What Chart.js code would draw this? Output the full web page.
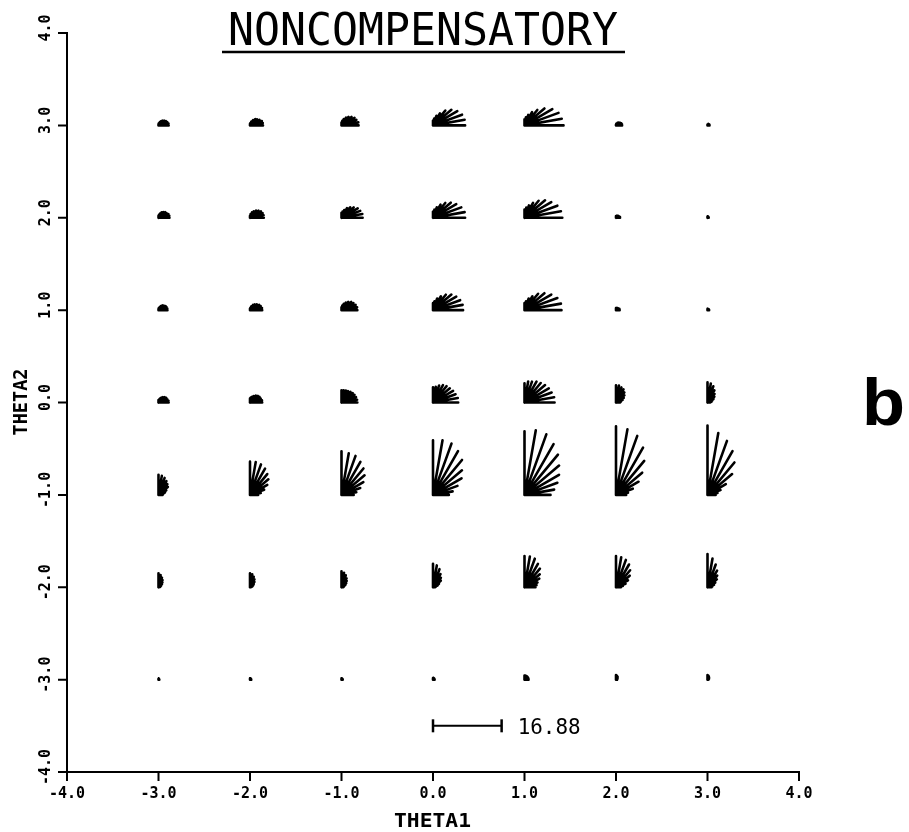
<!DOCTYPE html>
<html>
<head>
<meta charset="utf-8">
<script src="https://cdn.jsdelivr.net/npm/chart.js@4.4.1/dist/chart.umd.min.js"></script>
<style>
  html, body { margin: 0; padding: 0; background: #ffffff; }
  #wrap { width: 909px; height: 832px; }
</style>
</head>
<body>
<div id="wrap"><canvas id="info-plot" width="909" height="832"></canvas></div>
<script>
// grid of ability points
const theta1Values = [-3, -2, -1, 0, 1, 2, 3];
const theta2Values = [3, 2, 1, 0, -1, -2, -3];
// directions of the fan lines, degrees from the THETA1 axis
const directions = [0, 10, 20, 30, 40, 50, 60, 70, 80, 90];

// information in each direction, one list per point, theta1 = -3 .. 3
const infoRow3 = [
  [2.5, 2.5, 2.3, 2.1, 1.8, 1.5, 1.1, 0.7, 0.5, 0.3],
  [3.2, 3.2, 3.1, 2.7, 2.3, 2.0, 1.5, 1.0, 0.6, 0.4],
  [4.2, 4.2, 3.9, 3.7, 3.2, 2.7, 2.2, 1.6, 1.1, 0.7],
  [7.9, 7.9, 7.6, 6.9, 5.9, 4.7, 3.4, 2.5, 1.7, 1.2],
  [9.6, 9.3, 8.9, 7.9, 6.4, 4.9, 3.7, 2.7, 2.0, 1.5],
  [1.5, 1.5, 1.4, 1.2, 1.0, 0.9, 0.7, 0.5, 0.4, 0.2],
  [0.5, 0.5, 0.5, 0.5, 0.4, 0.4, 0.4, 0.2, 0.2, 0.2]
];
const infoRow2 = [
  [2.7, 2.7, 2.6, 2.3, 2.1, 1.8, 1.5, 1.1, 0.7, 0.5],
  [3.4, 3.4, 3.3, 3.1, 2.7, 2.3, 1.8, 1.4, 0.9, 0.5],
  [5.2, 5.2, 4.9, 4.6, 3.9, 3.3, 2.7, 2.0, 1.5, 1.2],
  [7.9, 7.9, 7.4, 6.6, 5.7, 4.7, 3.7, 2.7, 2.0, 1.5],
  [9.3, 9.1, 8.6, 7.6, 6.6, 5.4, 4.2, 3.2, 2.5, 2.0],
  [1.0, 1.0, 0.9, 0.7, 0.7, 0.6, 0.5, 0.5, 0.4, 0.4],
  [0.3, 0.3, 0.3, 0.3, 0.3, 0.3, 0.3, 0.3, 0.3, 0.3]
];
const infoRow1 = [
  [2.2, 2.2, 2.1, 2.0, 1.7, 1.5, 1.1, 0.7, 0.5, 0.3],
  [3.0, 3.0, 2.8, 2.6, 2.2, 1.8, 1.5, 1.0, 0.6, 0.4],
  [3.9, 3.9, 3.7, 3.4, 3.1, 2.6, 2.1, 1.6, 1.1, 0.7],
  [7.4, 7.4, 7.1, 6.6, 5.9, 4.9, 3.9, 3.0, 2.2, 1.7],
  [9.1, 9.1, 8.6, 7.6, 6.4, 5.2, 3.9, 3.0, 2.2, 1.7],
  [0.9, 0.9, 0.9, 0.7, 0.7, 0.6, 0.6, 0.5, 0.5, 0.5],
  [0.4, 0.4, 0.4, 0.4, 0.3, 0.3, 0.3, 0.3, 0.3, 0.3]
];
const infoRow0 = [
  [2.5, 2.5, 2.3, 2.2, 2.0, 1.7, 1.4, 1.0, 0.7, 0.6],
  [3.0, 3.0, 2.8, 2.7, 2.5, 2.2, 1.8, 1.5, 1.2, 1.0],
  [3.9, 3.9, 3.8, 3.7, 3.6, 3.4, 3.2, 3.1, 3.0, 3.0],
  [6.2, 6.2, 5.9, 5.7, 5.4, 5.2, 4.9, 4.4, 3.9, 3.7],
  [7.4, 7.4, 7.1, 6.9, 6.6, 6.2, 5.9, 5.4, 5.2, 4.7],
  [1.0, 1.2, 1.7, 2.2, 2.7, 3.2, 3.7, 3.9, 4.2, 4.2],
  [0.7, 1.0, 1.2, 1.7, 2.2, 2.7, 3.4, 4.2, 4.7, 4.9]
];
const infoRowMinus1 = [
  [1.0, 1.2, 1.7, 2.2, 3.0, 3.4, 3.9, 4.4, 4.7, 4.9],
  [2.0, 2.7, 3.7, 4.9, 5.9, 6.6, 7.4, 7.9, 8.1, 8.1],
  [3.0, 3.7, 4.9, 6.2, 7.4, 8.4, 9.3, 10.1, 10.3, 10.6],
  [3.9, 4.9, 6.4, 8.1, 9.3, 11.1, 12.3, 13.3, 13.5, 13.3],
  [6.4, 7.4, 8.6, 9.8, 11.1, 12.8, 14.3, 15.7, 16.0, 15.5],
  [2.5, 3.0, 4.4, 6.4, 8.4, 10.8, 13.3, 15.3, 16.2, 16.7],
  [2.0, 2.5, 3.4, 5.2, 7.9, 10.3, 12.3, 14.0, 15.3, 16.88]
];
const infoRowMinus2 = [
  [0.2, 0.4, 0.5, 0.7, 1.1, 1.5, 2.0, 2.5, 3.0, 3.4],
  [0.2, 0.4, 0.6, 0.9, 1.2, 1.7, 2.2, 2.7, 3.2, 3.4],
  [0.4, 0.5, 0.7, 1.1, 1.5, 2.0, 2.5, 3.1, 3.6, 3.9],
  [0.5, 0.7, 1.2, 1.7, 2.5, 3.0, 3.7, 4.7, 5.4, 5.7],
  [2.7, 3.0, 3.4, 4.2, 4.9, 5.9, 6.6, 7.4, 7.6, 7.6],
  [1.2, 1.7, 2.5, 3.4, 4.4, 5.4, 6.4, 7.1, 7.4, 7.6],
  [1.0, 1.2, 1.7, 2.2, 3.0, 3.7, 4.7, 5.9, 7.1, 8.1]
];
const infoRowMinus3 = [
  [0.2, 0.2, 0.2, 0.2, 0.2, 0.2, 0.2, 0.2, 0.2, 0.2],
  [0.3, 0.3, 0.3, 0.3, 0.3, 0.3, 0.3, 0.3, 0.3, 0.3],
  [0.3, 0.3, 0.3, 0.3, 0.3, 0.3, 0.3, 0.3, 0.3, 0.3],
  [0.4, 0.4, 0.4, 0.4, 0.4, 0.4, 0.4, 0.4, 0.4, 0.4],
  [1.0, 1.0, 1.0, 1.0, 1.0, 1.0, 1.0, 1.0, 1.0, 1.0],
  [0.2, 0.3, 0.3, 0.4, 0.5, 0.6, 0.8, 0.9, 1.0, 1.1],
  [0.2, 0.3, 0.3, 0.4, 0.5, 0.6, 0.7, 0.9, 1.0, 1.1]
];
const infoRows = [infoRow3, infoRow2, infoRow1, infoRow0, infoRowMinus1, infoRowMinus2, infoRowMinus3];

const xTickValues = [-4, -3, -2, -1, 0, 1, 2, 3, 4];
const xTickLabels = ['-4.0', '-3.0', '-2.0', '-1.0', '0.0', '1.0', '2.0', '3.0', '4.0'];
const yTickValues = [-4, -3, -2, -1, 0, 1, 2, 3, 4];
const yTickLabels = ['-4.0', '-3.0', '-2.0', '-1.0', '0.0', '1.0', '2.0', '3.0', '4.0'];

const scaleBarInfo = 16.88;          // information shown by the scale bar
const scaleBarUnits = 0.75;          // its length in theta units
const unitsPerInfo = scaleBarUnits / scaleBarInfo;

// each fan line: origin, tip, then a gap
function buildFanSegments() {
  const pts = [];
  theta2Values.forEach((t2, r) => {
    theta1Values.forEach((t1, c) => {
      infoRows[r][c].forEach((info, k) => {
        const a = directions[k] * Math.PI / 180;
        const len = info * unitsPerInfo;
        pts.push({ x: t1, y: t2 });
        pts.push({ x: t1 + len * Math.cos(a), y: t2 + len * Math.sin(a) });
        pts.push({ x: t1, y: null });
      });
    });
  });
  return pts;
}

function fitText(ctx, text, left, baseline, width, font) {
  ctx.save();
  ctx.font = font;
  const w = ctx.measureText(text).width;
  ctx.translate(left, baseline);
  ctx.scale(width / w, 1);
  ctx.textAlign = 'left';
  ctx.textBaseline = 'alphabetic';
  ctx.fillText(text, 0, 0);
  ctx.restore();
}

const plotterText = {
  id: 'plotterText',
  afterDraw(chart) {
    const ctx = chart.ctx;
    const xs = chart.scales.x;
    const ys = chart.scales.y;
    const area = chart.chartArea;
    ctx.save();
    ctx.fillStyle = '#000';
    ctx.strokeStyle = '#000';

    // tick marks
    ctx.lineWidth = 2;
    ctx.beginPath();
    xTickValues.forEach(v => {
      const px = xs.getPixelForValue(v);
      ctx.moveTo(px, area.bottom);
      ctx.lineTo(px, area.bottom + 9);
    });
    yTickValues.forEach(v => {
      const py = ys.getPixelForValue(v);
      ctx.moveTo(area.left - 9, py);
      ctx.lineTo(area.left, py);
    });
    ctx.stroke();

    // tick labels
    ctx.font = 'bold 15px "DejaVu Sans Mono"';
    ctx.textAlign = 'center';
    ctx.textBaseline = 'middle';
    xTickValues.forEach((v, i) => {
      ctx.fillText(xTickLabels[i], xs.getPixelForValue(v), area.bottom + 22);
    });
    yTickValues.forEach((v, i) => {
      ctx.save();
      ctx.translate(area.left - 21, ys.getPixelForValue(v) - 5);
      ctx.rotate(-Math.PI / 2);
      ctx.fillText(yTickLabels[i], 0, 0);
      ctx.restore();
    });

    // axis titles
    const cx = (area.left + area.right) / 2;
    fitText(ctx, 'THETA1', cx - 39, area.bottom + 55, 77, 'bold 20px "DejaVu Sans Mono"');
    ctx.save();
    ctx.translate(27, (area.top + area.bottom) / 2 + 33);
    ctx.rotate(-Math.PI / 2);
    fitText(ctx, 'THETA2', 0, 0, 67, 'bold 19px "DejaVu Sans Mono"');
    ctx.restore();

    // title with underline
    fitText(ctx, 'NONCOMPENSATORY', 228, 45, 390, '44px "DejaVu Sans Mono"');
    ctx.lineWidth = 2.5;
    ctx.beginPath();
    ctx.moveTo(222, 52);
    ctx.lineTo(625, 52);
    ctx.stroke();

    // scale bar value
    const barEnd = xs.getPixelForValue(scaleBarUnits);
    const barY = ys.getPixelForValue(-3.5);
    fitText(ctx, scaleBarInfo.toFixed(2), barEnd + 16, barY + 8, 63, '22px "DejaVu Sans Mono"');

    // panel letter
    fitText(ctx, 'b', 862, 425, 43, 'bold 66px "Liberation Sans"');
    ctx.restore();
  }
};

new Chart(document.getElementById('info-plot').getContext('2d'), {
  type: 'scatter',
  data: {
    datasets: [{
      label: 'information',
      data: buildFanSegments(),
      showLine: true,
      spanGaps: false,
      borderColor: '#000',
      borderWidth: 2.6,
      borderCapStyle: 'round',
      pointRadius: 0,
      pointHoverRadius: 0
    }, {
      label: 'scale',
      data: [{ x: 0, y: -3.5 }, { x: scaleBarUnits, y: -3.5 }],
      showLine: true,
      borderColor: '#000',
      borderWidth: 2,
      pointStyle: 'line',
      rotation: 90,
      pointRadius: 6.5,
      pointBorderWidth: 2.5,
      pointBorderColor: '#000'
    }]
  },
  options: {
    responsive: false,
    animation: false,
    layout: { padding: { left: 67, right: 110, top: 33, bottom: 60 } },
    plugins: {
      legend: { display: false },
      tooltip: { enabled: false }
    },
    scales: {
      x: {
        type: 'linear',
        min: -4,
        max: 4,
        ticks: { display: false, stepSize: 1 },
        grid: { display: false, drawTicks: false },
        border: { display: true, color: '#000', width: 2 }
      },
      y: {
        type: 'linear',
        min: -4,
        max: 4,
        ticks: { display: false, stepSize: 1 },
        grid: { display: false, drawTicks: false },
        border: { display: true, color: '#000', width: 2 }
      }
    }
  },
  plugins: [plotterText]
});
</script>
</body>
</html>
